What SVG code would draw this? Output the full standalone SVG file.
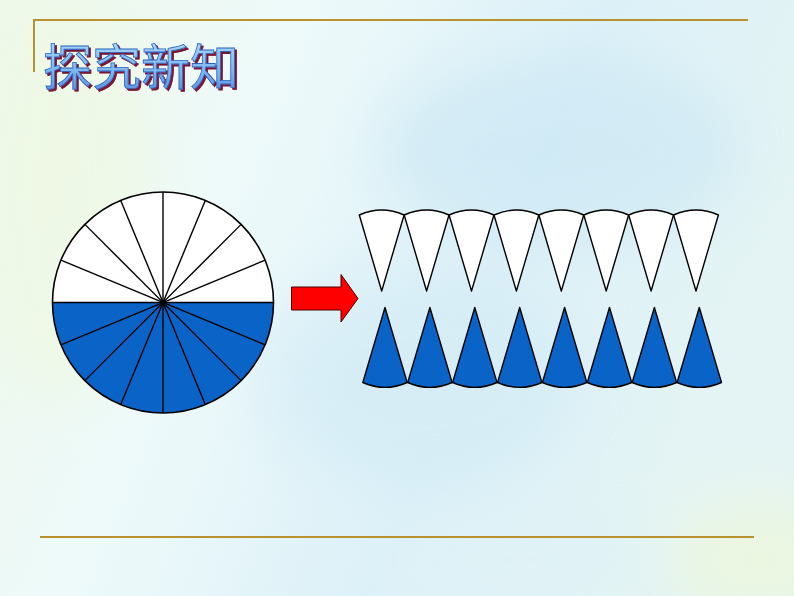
<svg xmlns="http://www.w3.org/2000/svg" width="794" height="596" viewBox="0 0 794 596">
<defs>
<linearGradient id="bg" x1="0" y1="0" x2="1" y2="0.3">
<stop offset="0" stop-color="#eef8ea"/>
<stop offset="0.35" stop-color="#eefafa"/>
<stop offset="0.7" stop-color="#dcf0f8"/>
<stop offset="1" stop-color="#e4f4f4"/>
</linearGradient>
<linearGradient id="tg" x1="0" y1="0" x2="0" y2="1">
<stop offset="0" stop-color="#b8e2fa"/>
<stop offset="0.6" stop-color="#7fb8ee"/>
<stop offset="1" stop-color="#4a86dc"/>
</linearGradient>
<filter id="blur" x="-50%" y="-50%" width="200%" height="200%"><feGaussianBlur stdDeviation="30"/></filter>
<filter id="shadow" x="-10%" y="-10%" width="120%" height="130%">
<feFlood flood-color="#7a1830" result="c"/>
<feComposite in="c" in2="SourceAlpha" operator="in" result="s"/>
<feOffset in="s" dx="2" dy="2" result="o"/>
<feMerge><feMergeNode in="o"/><feMergeNode in="SourceGraphic"/></feMerge>
</filter>
<path id="ws" d="M0,0 L-22.4,-76 A55,55 0 0 1 22.4,-76 Z"/>
<path id="bs" d="M0,0 L-22.2,75 A55,55 0 0 0 22.2,75 Z"/>
<style>
.gold{stroke:#b8922e;stroke-width:2;fill:none}
.sp{stroke:#000;stroke-width:1.4;stroke-linejoin:round}
.w{fill:#fff}
.b{fill:#0a64c8}
.title{font-family:"Noto Sans CJK SC","Noto Sans",sans-serif;font-size:49px;font-weight:400}
</style>
</defs>
<rect width="794" height="596" fill="url(#bg)"/>
<g filter="url(#blur)" opacity="0.75">
<ellipse cx="560" cy="150" rx="180" ry="90" fill="#cde8f4"/>
<ellipse cx="420" cy="380" rx="160" ry="110" fill="#d4ecf6"/>
<ellipse cx="60" cy="200" rx="90" ry="200" fill="#eef8e2"/>
<ellipse cx="760" cy="560" rx="90" ry="60" fill="#eef8da"/>
<ellipse cx="520" cy="560" rx="140" ry="40" fill="#dff2f6"/>
</g>
<g id="frame">
<path class="gold" d="M33,20 H748 M34,20 V72"/>
<path class="gold" d="M40,537 H754"/>
</g>
<g id="title">
<text class="title" x="43" y="85" fill="url(#tg)" stroke="#2a64c0" stroke-width="0.8" filter="url(#shadow)">探究新知</text>
</g>
<g id="circle">
<path class="w" d="M52.5,302.5 A110.5,110.5 0 0 1 273.5,302.5 Z"/>
<path class="b" d="M273.5,302.5 A110.5,110.5 0 0 1 52.5,302.5 Z"/>
<g class="sp">
<line x1="52.5" y1="302.5" x2="273.5" y2="302.5"/>
<line x1="265.09" y1="260.21" x2="60.91" y2="344.79"/>
<line x1="241.13" y1="224.37" x2="84.87" y2="380.63"/>
<line x1="205.29" y1="200.41" x2="120.71" y2="404.59"/>
<line x1="163" y1="192" x2="163" y2="413"/>
<line x1="120.71" y1="200.41" x2="205.29" y2="404.59"/>
<line x1="84.87" y1="224.37" x2="241.13" y2="380.63"/>
<line x1="60.91" y1="260.21" x2="265.09" y2="344.79"/>
</g>
<circle cx="163" cy="302.5" r="110.5" fill="none" stroke="#000" stroke-width="1.6"/>
</g>
<g id="arrow">
<polygon points="291.5,287 341,287 341,274.5 358,298.5 341,322 341,310 291.5,310" fill="#ff0000" stroke="#4a0000" stroke-width="1"/>
</g>
<g id="white-sectors" class="sp">
<use href="#ws" class="w" x="381.7" y="291"/>
<use href="#ws" class="w" x="426.6" y="291"/>
<use href="#ws" class="w" x="471.5" y="291"/>
<use href="#ws" class="w" x="516.4" y="291"/>
<use href="#ws" class="w" x="561.3" y="291"/>
<use href="#ws" class="w" x="606.2" y="291"/>
<use href="#ws" class="w" x="651.1" y="291"/>
<use href="#ws" class="w" x="696" y="291"/>
</g>
<g id="blue-sectors" class="sp">
<use href="#bs" class="b" x="385" y="307.5"/>
<use href="#bs" class="b" x="429.9" y="307.5"/>
<use href="#bs" class="b" x="474.8" y="307.5"/>
<use href="#bs" class="b" x="519.7" y="307.5"/>
<use href="#bs" class="b" x="564.6" y="307.5"/>
<use href="#bs" class="b" x="609.5" y="307.5"/>
<use href="#bs" class="b" x="654.4" y="307.5"/>
<use href="#bs" class="b" x="699.3" y="307.5"/>
</g>
</svg>
